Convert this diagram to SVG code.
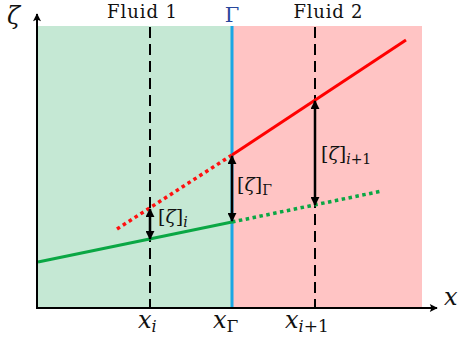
<svg xmlns="http://www.w3.org/2000/svg" width="459" height="349" viewBox="0 0 459 349">
<style>
text{font-family:'DejaVu Serif','Liberation Serif',serif;fill:#111}
.m{font-style:italic}
.r{font-style:normal}
.dash{stroke:#000;stroke-width:2;stroke-dasharray:11 6;fill:none}
.dbl{stroke:#000;stroke-width:2.5;fill:none;marker-start:url(#ah);marker-end:url(#ah)}
</style>
<defs>
<marker id="ah" viewBox="0 0 10 10" refX="9" refY="5" markerWidth="9" markerHeight="9" markerUnits="userSpaceOnUse" orient="auto-start-reverse">
<path d="M0,0 L10,5 L0,10 z" fill="#000"/>
</marker>
<marker id="ax" viewBox="0 0 10 10" refX="9" refY="5" markerWidth="9" markerHeight="8" markerUnits="userSpaceOnUse" orient="auto">
<path d="M0,0 L10,5 L0,10 L2,5 z" fill="#000"/>
</marker>
</defs>
<g id="regions">
<rect id="fluid1" x="37" y="26" width="195" height="282" fill="#c5e8d4"/>
<rect id="fluid2" x="232" y="26" width="190" height="282" fill="#ffc4c4"/>
</g>
<g id="interface">
<line x1="232" y1="26" x2="232" y2="308" stroke="#1ba6e4" stroke-width="3"/>
<text x="232" y="22" font-size="21" style="fill:#27479c" text-anchor="middle">Γ</text>
</g>
<g id="gridlines">
<line class="dash" x1="150" y1="27" x2="150" y2="308"/>
<line class="dash" x1="315" y1="27" x2="315" y2="308"/>
</g>
<g id="profiles">
<line x1="38" y1="262" x2="232" y2="222" stroke="#0aa744" stroke-width="3"/>
<line x1="232" y1="222" x2="382" y2="191" stroke="#0aa744" stroke-width="3.5" stroke-dasharray="3.5 3.5"/>
<line x1="117" y1="229" x2="232" y2="155" stroke="#ff1010" stroke-width="3.5" stroke-dasharray="3.5 3.5"/>
<line x1="232" y1="155" x2="406" y2="40" stroke="#ff0000" stroke-width="3"/>
</g>
<g id="connectors">
<line class="dbl" x1="150" y1="209" x2="150" y2="239"/>
<line class="dbl" x1="232" y1="156" x2="232" y2="221"/>
<line class="dbl" x1="315" y1="101" x2="315" y2="205"/>
</g>
<g id="axes">
<line x1="37" y1="309" x2="37" y2="14" stroke="#000" stroke-width="2" marker-end="url(#ax)"/>
<line x1="36" y1="308" x2="437" y2="308" stroke="#000" stroke-width="2" marker-end="url(#ax)"/>
<text class="m" x="7" y="24" font-size="24">ζ</text>
<text class="m" x="444" y="305" font-size="24">x</text>
</g>
<g id="labels">
<text x="142" y="18" font-size="18" text-anchor="middle" textLength="70">Fluid 1</text>
<text x="328" y="18" font-size="18" text-anchor="middle" textLength="69">Fluid 2</text>
<text class="m" x="138" y="328" font-size="24">x<tspan font-size="16" dy="4">i</tspan></text>
<text class="m" x="213" y="328" font-size="24">x<tspan class="r" font-size="17" dy="4">Γ</tspan></text>
<text class="m" x="285" y="328" font-size="24">x<tspan font-size="16" dy="4">i</tspan><tspan class="r" font-size="17">+1</tspan></text>
<text x="158" y="223" font-size="19">[<tspan class="m">ζ</tspan>]<tspan class="m" font-size="14" dy="4">i</tspan></text>
<text x="237" y="191" font-size="19">[<tspan class="m">ζ</tspan>]<tspan font-size="14" dy="4">Γ</tspan></text>
<text x="321" y="160" font-size="19">[<tspan class="m">ζ</tspan>]<tspan class="m" font-size="14" dy="4">i</tspan><tspan font-size="14">+1</tspan></text>
</g>
</svg>
